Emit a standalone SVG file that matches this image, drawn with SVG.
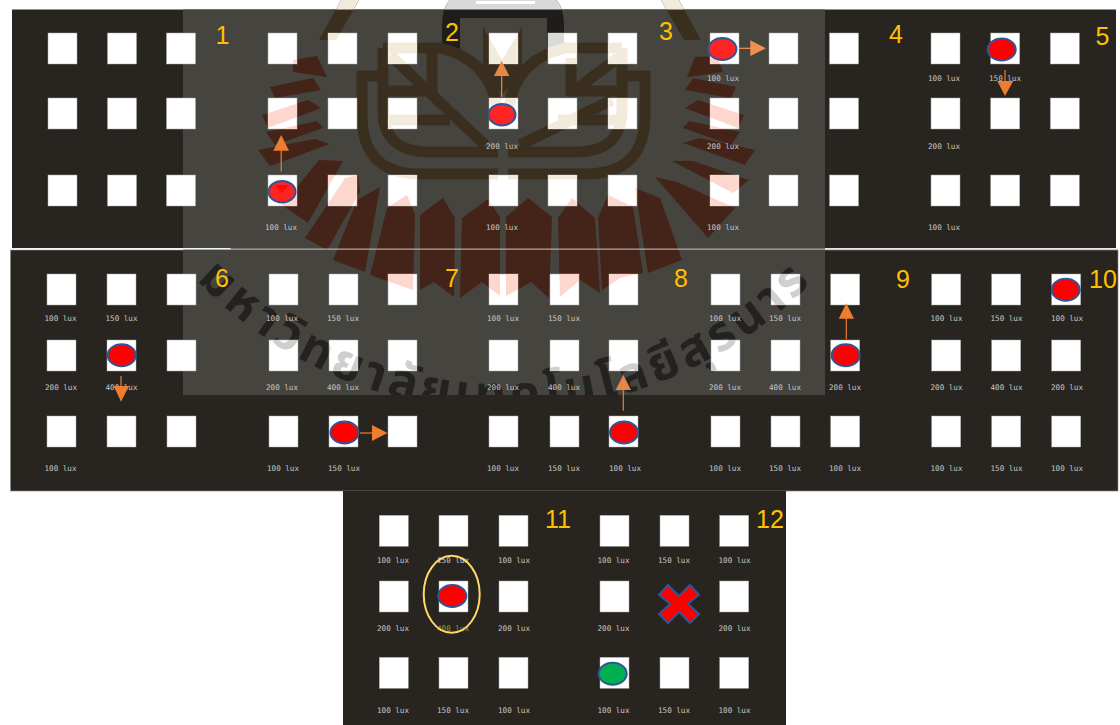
<svg xmlns="http://www.w3.org/2000/svg" xmlns:xlink="http://www.w3.org/1999/xlink" width="1120" height="725" viewBox="0 0 1120 725">
<style>
.l{font-family:"DejaVu Sans Mono",monospace;font-size:7.6px;fill:#c9c9c7;text-anchor:middle}
.n{font-family:"Liberation Sans",Arial,sans-serif;font-size:25px;fill:#ffc000;text-anchor:middle}
.m{stroke:#2f5597;stroke-width:2;fill:#f00}
.mo{stroke:#2f5597;stroke-width:2;fill:#ff2424}
.a{fill:#ed7d31;stroke:none}
.al{stroke:#ed7d31;stroke-width:1.2;fill:none}
.rays polygon{fill:var(--ray)}
.bands path{fill:none;stroke:var(--band);stroke-width:11}
.bandf{fill:var(--band)}
.hump{fill:var(--hump)}
.thai{fill:var(--thai);font-family:"Noto Sans Thai","Noto Sans","DejaVu Sans",sans-serif;font-size:49px;font-weight:700;text-anchor:middle;letter-spacing:4.5px}
.dark{--ray:#442418;--band:#3a2f1e;--hump:#1f1d1a;--thai:#242220}
.pale{--ray:#fdd6cd;--band:#f2ebdc;--hump:#d9d9d9;--thai:#cfcfcf}
</style>
<defs>
<rect id="s" width="29" height="31" fill="#fff" stroke="#a8a8a6" stroke-width="0.5"/>
<clipPath id="wm"><rect x="183" y="0" width="642" height="395"/></clipPath>
<clipPath id="paleclip">
<rect x="183" y="0" width="642" height="9.5"/>
<rect x="268" y="33" width="29" height="31"/><rect x="328" y="33" width="29" height="31"/><rect x="388" y="33" width="29" height="31"/><rect x="489" y="33" width="29" height="31"/><rect x="548" y="33" width="29" height="31"/><rect x="608" y="33" width="29" height="31"/><rect x="710" y="33" width="29" height="31"/><rect x="769" y="33" width="29" height="31"/>
<rect x="268" y="98" width="29" height="31"/><rect x="328" y="98" width="29" height="31"/><rect x="388" y="98" width="29" height="31"/><rect x="489" y="98" width="29" height="31"/><rect x="548" y="98" width="29" height="31"/><rect x="608" y="98" width="29" height="31"/><rect x="710" y="98" width="29" height="31"/><rect x="769" y="98" width="29" height="31"/>
<rect x="268" y="175" width="29" height="31"/><rect x="328" y="175" width="29" height="31"/><rect x="388" y="175" width="29" height="31"/><rect x="489" y="175" width="29" height="31"/><rect x="548" y="175" width="29" height="31"/><rect x="608" y="175" width="29" height="31"/><rect x="710" y="175" width="29" height="31"/><rect x="769" y="175" width="29" height="31"/>
<rect x="269" y="274" width="29" height="31"/><rect x="329" y="274" width="29" height="31"/><rect x="388" y="274" width="29" height="31"/><rect x="489" y="274" width="29" height="31"/><rect x="550" y="274" width="29" height="31"/><rect x="609" y="274" width="29" height="31"/><rect x="711" y="274" width="29" height="31"/><rect x="771" y="274" width="29" height="31"/>
<rect x="269" y="340" width="29" height="31"/><rect x="329" y="340" width="29" height="31"/><rect x="388" y="340" width="29" height="31"/><rect x="489" y="340" width="29" height="31"/><rect x="550" y="340" width="29" height="31"/><rect x="609" y="340" width="29" height="31"/><rect x="711" y="340" width="29" height="31"/><rect x="771" y="340" width="29" height="31"/>
</clipPath>
<path id="arc" d="M170,250 A429,429 0 0 0 840,250"/>
<g id="logo">
<path class="hump" fill-rule="evenodd" d="M442,50 V25 Q442,-10 477,-10 H529 Q564,-10 564,25 V50 H547 V18 H460 V50 Z M476,1 H535 V4 H476 Z"/>
<g class="bandf">
<polygon points="341,0 359,0 336,40 319,40"/>
<polygon points="661,0 679,0 701,40 684,40"/>
<polygon points="483,27 502,60 522,27 522,70 502,95 483,70"/>
</g>
<g class="bands">
<path d="M380,76 H362 V115 Q362,174 420,174 H498"/>
<path d="M508,174 H586 Q645,174 645,115 V76 H626"/>
<path d="M383,48 V110 Q383,152 430,152 H498"/>
<path d="M508,152 H575 Q622,152 622,110 V48"/>
<path d="M383,48 H440 Q490,60 497,108"/>
<path d="M622,48 H565 Q515,60 509,108"/>
<path d="M390,55 L485,145" stroke-width="9"/>
<path d="M618,58 L575,90 M612,100 L520,145" stroke-width="9"/>
<path d="M432,53 V91 H383" stroke-width="8"/>
<path d="M571,58 V91 H622" stroke-width="8"/>
<path d="M383,120 H450 M558,120 H622" stroke-width="9"/>
</g>
<g class="rays">
<polygon points="293,60 317,56 327,77 293,72"/>
<polygon points="270,87 313,78 321,90 275,98"/>
<polygon points="262,115 308,100 321,108 268,128"/>
<polygon points="266,132 317,121 323,128 275,145"/>
<polygon points="258,150 315,139 330,144 270,166"/>
<polygon points="319,160 343,161 308,223 282,205"/>
<polygon points="345,178 358,175 360,192 327,250 305,238"/>
<polygon points="333,260 357,200 380,187 365,272"/>
<polygon points="370,275 387,208 407,195 415,215 413,290"/>
<polygon points="420,290 420,215 443,198 455,218 454,297 434,282"/>
<polygon points="460,298 462,218 488,199 500,217 500,296 482,282"/>
<polygon points="506,296 506,217 528,198 552,217 549,298 531,282"/>
<polygon points="558,218 572,198 595,218 600,293 580,280 560,297"/>
<polygon points="598,218 608,195 633,207 643,273 620,278 602,290"/>
<polygon points="635,188 660,198 682,260 648,273"/>
<polygon points="655,177 677,182 735,208 708,238"/>
<polygon points="672,161 693,161 749,180 733,193"/>
<polygon points="683,143 700,138 755,150 745,165"/>
<polygon points="687,77 695,57 717,56 723,72"/>
<polygon points="736,87 693,78 685,90 731,98"/>
<polygon points="744,115 698,100 685,108 738,128"/>
<polygon points="740,132 689,121 683,128 731,145"/>
</g>
<text class="thai"><textPath href="#arc" startOffset="50%">มหาวิทยาลัยเทคโนโลยีสุรนาร</textPath></text>
</g>
</defs>

<rect width="1120" height="725" fill="#fff"/>
<g id="panels">
<rect x="12" y="9.5" width="1104" height="238.5" fill="#28241f"/>
<rect x="10.5" y="250" width="1107.5" height="241" fill="#28241f" stroke="#8a8a88" stroke-width="0.7"/>
<rect x="343" y="491" width="443" height="234" fill="#28241f"/>
<rect x="183" y="9.5" width="642" height="385.5" fill="#46443f"/>
</g>
<g id="watermark-dark" class="dark" clip-path="url(#wm)"><use href="#logo"/></g>
<rect x="10.5" y="248" width="220" height="1.6" fill="#f2f2f2"/>
<rect x="230" y="248.6" width="888" height="1" fill="#c8c8c6"/>

<g id="node-1"><use href="#s" x="48" y="33"/><use href="#s" x="107.500" y="33"/><use href="#s" x="166.500" y="33"/><use href="#s" x="48" y="98"/><use href="#s" x="107.500" y="98"/><use href="#s" x="166.500" y="98"/><use href="#s" x="48" y="175"/><use href="#s" x="107.500" y="175"/><use href="#s" x="166.500" y="175"/><text class="n" x="222.500" y="44">1</text></g>
<g id="node-2"><use href="#s" x="268" y="33"/><use href="#s" x="328" y="33"/><use href="#s" x="388" y="33"/><use href="#s" x="268" y="98"/><use href="#s" x="328" y="98"/><use href="#s" x="388" y="98"/><use href="#s" x="268" y="175"/><use href="#s" x="328" y="175"/><use href="#s" x="388" y="175"/><text class="l" x="281" y="230">100 lux</text><text class="n" x="452" y="41">2</text></g>
<g id="node-3"><use href="#s" x="489" y="33"/><use href="#s" x="548" y="33"/><use href="#s" x="608" y="33"/><use href="#s" x="489" y="98"/><use href="#s" x="548" y="98"/><use href="#s" x="608" y="98"/><use href="#s" x="489" y="175"/><use href="#s" x="548" y="175"/><use href="#s" x="608" y="175"/><text class="l" x="502" y="149">200 lux</text><text class="l" x="502" y="230">100 lux</text><text class="n" x="666" y="39.500">3</text></g>
<g id="node-4"><use href="#s" x="710" y="33"/><use href="#s" x="769" y="33"/><use href="#s" x="829.500" y="33"/><use href="#s" x="710" y="98"/><use href="#s" x="769" y="98"/><use href="#s" x="829.500" y="98"/><use href="#s" x="710" y="175"/><use href="#s" x="769" y="175"/><use href="#s" x="829.500" y="175"/><text class="l" x="723" y="81">100 lux</text><text class="l" x="723" y="149">200 lux</text><text class="l" x="723" y="230">100 lux</text><text class="n" x="896" y="43">4</text></g>
<g id="node-5"><use href="#s" x="931" y="33"/><use href="#s" x="990.700" y="33"/><use href="#s" x="1050.300" y="33"/><use href="#s" x="931" y="98"/><use href="#s" x="990.700" y="98"/><use href="#s" x="1050.300" y="98"/><use href="#s" x="931" y="175"/><use href="#s" x="990.700" y="175"/><use href="#s" x="1050.300" y="175"/><text class="l" x="944" y="81">100 lux</text><text class="l" x="1005" y="81">150 lux</text><text class="l" x="944" y="149">200 lux</text><text class="l" x="944" y="230">100 lux</text><text class="n" x="1102.500" y="45">5</text></g>

<g id="node-6"><use href="#s" x="47" y="274"/><use href="#s" x="107" y="274"/><use href="#s" x="167" y="274"/><use href="#s" x="47" y="340"/><use href="#s" x="107" y="340"/><use href="#s" x="167" y="340"/><use href="#s" x="47" y="416"/><use href="#s" x="107" y="416"/><use href="#s" x="167" y="416"/><text class="l" x="60.500" y="321">100 lux</text><text class="l" x="121.500" y="321">150 lux</text><text class="l" x="61" y="390">200 lux</text><text class="l" x="121.500" y="390">400 lux</text><text class="l" x="60.500" y="471">100 lux</text><text class="n" x="222" y="287">6</text></g>
<g id="node-7"><use href="#s" x="269" y="274"/><use href="#s" x="329" y="274"/><use href="#s" x="388" y="274"/><use href="#s" x="269" y="340"/><use href="#s" x="329" y="340"/><use href="#s" x="388" y="340"/><use href="#s" x="269" y="416"/><use href="#s" x="329" y="416"/><use href="#s" x="388" y="416"/><text class="l" x="282" y="321">100 lux</text><text class="l" x="343" y="321">150 lux</text><text class="l" x="282" y="390">200 lux</text><text class="l" x="343" y="390">400 lux</text><text class="l" x="283" y="471">100 lux</text><text class="l" x="344" y="471">150 lux</text><text class="n" x="452" y="287">7</text></g>
<g id="node-8"><use href="#s" x="489" y="274"/><use href="#s" x="550" y="274"/><use href="#s" x="609" y="274"/><use href="#s" x="489" y="340"/><use href="#s" x="550" y="340"/><use href="#s" x="609" y="340"/><use href="#s" x="489" y="416"/><use href="#s" x="550" y="416"/><use href="#s" x="609" y="416"/><text class="l" x="503" y="321">100 lux</text><text class="l" x="564" y="321">150 lux</text><text class="l" x="503" y="390">200 lux</text><text class="l" x="564" y="390">400 lux</text><text class="l" x="503" y="471">100 lux</text><text class="l" x="564" y="471">150 lux</text><text class="l" x="625" y="471">100 lux</text><text class="n" x="681" y="287">8</text></g>
<g id="node-9"><use href="#s" x="711" y="274"/><use href="#s" x="771" y="274"/><use href="#s" x="830.700" y="274"/><use href="#s" x="711" y="340"/><use href="#s" x="771" y="340"/><use href="#s" x="830.700" y="340"/><use href="#s" x="711" y="416"/><use href="#s" x="771" y="416"/><use href="#s" x="830.700" y="416"/><text class="l" x="725" y="321">100 lux</text><text class="l" x="785" y="321">150 lux</text><text class="l" x="725" y="390">200 lux</text><text class="l" x="785" y="390">400 lux</text><text class="l" x="845" y="390">200 lux</text><text class="l" x="725" y="471">100 lux</text><text class="l" x="785" y="471">150 lux</text><text class="l" x="845" y="471">100 lux</text><text class="n" x="903" y="288">9</text></g>
<g id="node-10"><use href="#s" x="931.700" y="274"/><use href="#s" x="991.700" y="274"/><use href="#s" x="1051.700" y="274"/><use href="#s" x="931.700" y="340"/><use href="#s" x="991.700" y="340"/><use href="#s" x="1051.700" y="340"/><use href="#s" x="931.700" y="416"/><use href="#s" x="991.700" y="416"/><use href="#s" x="1051.700" y="416"/><text class="l" x="946.500" y="321">100 lux</text><text class="l" x="1006.500" y="321">150 lux</text><text class="l" x="1067" y="321">100 lux</text><text class="l" x="946.500" y="390">200 lux</text><text class="l" x="1006.500" y="390">400 lux</text><text class="l" x="1067" y="390">200 lux</text><text class="l" x="946.500" y="471">100 lux</text><text class="l" x="1006.500" y="471">150 lux</text><text class="l" x="1067" y="471">100 lux</text><text class="n" x="1103" y="288">10</text></g>

<g id="node-11"><use href="#s" x="379.300" y="515.300"/><use href="#s" x="439" y="515.300"/><use href="#s" x="499" y="515.300"/><use href="#s" x="379.300" y="581"/><use href="#s" x="439" y="581"/><use href="#s" x="499" y="581"/><use href="#s" x="379.300" y="657.300"/><use href="#s" x="439" y="657.300"/><use href="#s" x="499" y="657.300"/><text class="l" x="393" y="562.700">100 lux</text><text class="l" x="453" y="562.700">150 lux</text><text class="l" x="514" y="562.700">100 lux</text><text class="l" x="393" y="631">200 lux</text><text class="l" x="453" y="631" style="fill:#a89a38">400 lux</text><text class="l" x="514" y="631">200 lux</text><text class="l" x="393" y="712.500">100 lux</text><text class="l" x="453" y="712.500">150 lux</text><text class="l" x="514" y="712.500">100 lux</text><text class="n" x="558" y="528">11</text></g>
<g id="node-12"><use href="#s" x="600" y="515.300"/><use href="#s" x="660" y="515.300"/><use href="#s" x="719.700" y="515.300"/><use href="#s" x="600" y="581"/><use href="#s" x="719.700" y="581"/><use href="#s" x="600" y="657.300"/><use href="#s" x="660" y="657.300"/><use href="#s" x="719.700" y="657.300"/><text class="l" x="613.500" y="562.700">100 lux</text><text class="l" x="674" y="562.700">150 lux</text><text class="l" x="734.500" y="562.700">100 lux</text><text class="l" x="613.500" y="631">200 lux</text><text class="l" x="734.500" y="631">200 lux</text><text class="l" x="613.500" y="712.500">100 lux</text><text class="l" x="674" y="712.500">150 lux</text><text class="l" x="734.500" y="712.500">100 lux</text><text class="n" x="770" y="528">12</text></g>

<g id="watermark-light" class="pale" clip-path="url(#paleclip)"><use href="#logo"/></g>

<g id="markers">
<ellipse class="mo" cx="282" cy="191.700" rx="13.500" ry="10.800"/>
<polygon points="275,185 282,193 289,185" fill="#ff0a0a"/>
<ellipse class="mo" cx="502" cy="114.700" rx="13.500" ry="10.800"/>
<ellipse class="mo" cx="722.400" cy="49" rx="14" ry="11"/>
<ellipse class="m" cx="1001.700" cy="49.500" rx="14" ry="11"/>
<ellipse class="m" cx="121.700" cy="355.300" rx="14" ry="11"/>
<ellipse class="m" cx="344.500" cy="432.500" rx="14" ry="11"/>
<ellipse class="m" cx="624" cy="432.500" rx="14" ry="11"/>
<ellipse class="m" cx="845.700" cy="355.300" rx="14" ry="11"/>
<ellipse class="m" cx="1065.700" cy="289.700" rx="14" ry="11"/>
<ellipse class="m" cx="452.300" cy="596" rx="14" ry="11"/>
<ellipse cx="451.700" cy="594.300" rx="28" ry="38.500" fill="none" stroke="#ffd966" stroke-width="2"/>
<ellipse class="m" cx="612.700" cy="673.700" rx="14" ry="11" style="fill:#00b050"/>
<polygon class="m" points="679,596 690,585 699,594.700 688,604 699,614 690,623 679,612 668,623 659,614 670,604 659,594.700 668,585"/>
</g>

<g id="connectors">
<path class="al" d="M281.200,171.500 V150"/><polygon class="a" points="273.300,150.700 289,150.700 281.200,135"/>
<path class="al" d="M501.700,96.700 V75" style="stroke:#ea8a4a"/><polygon class="a" style="fill:#e88645" points="494,76 509.300,76 501.700,60.700"/>
<path class="al" d="M739,48.300 H751" style="stroke:#f09050"/><polygon class="a" style="fill:#f09050" points="750.300,40.300 750.300,56 765.900,48.300"/>
<path class="al" d="M1005,70 V82" style="stroke:#c86a2a;stroke-width:1.500"/><polygon class="a" points="997.300,81 1013.300,81 1005,96"/>
<path class="al" d="M121,376 V387" style="stroke:#c86a2a;stroke-width:1.500"/><polygon class="a" points="113.700,386 129,386 121,401.700"/>
<path class="al" d="M360,433 H373"/><polygon class="a" points="372,425 372,441 387.500,433"/>
<path class="al" d="M623.300,410.700 V389"/><polygon class="a" style="fill:#e88645" points="615.700,390 631,390 623.300,375"/>
<path class="al" d="M846.300,339.300 V318"/><polygon class="a" points="838.700,318.700 854,318.700 846.300,303.300"/>
</g>
</svg>
